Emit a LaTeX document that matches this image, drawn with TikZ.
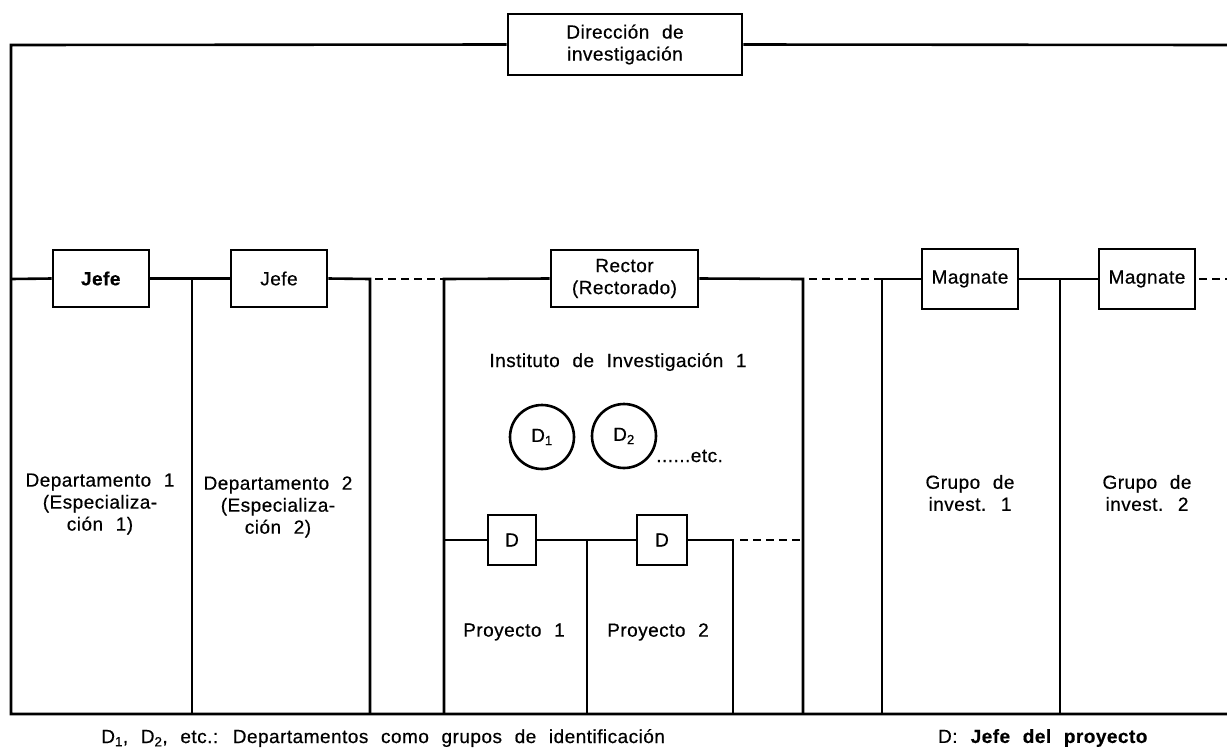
\documentclass[tikz,border=0pt]{standalone}
\usepackage{fontspec}
\setmainfont[LetterSpace=2.5,WordSpace=2.2,FakeBold=0.5]{Liberation Sans}
\begin{document}
\begin{tikzpicture}[x=1pt,y=-1pt,
  line width=2.6pt,
  txt/.style={align=center,font=\fontsize{19}{22}\selectfont},
  box/.style={txt,draw,rectangle,inner sep=0pt,fill=white},
  circ/.style={txt,draw,circle,inner sep=0pt,minimum size=64pt},
  dashconn/.style={dash pattern=on 8pt off 5pt}]
\useasboundingbox (0,0) rectangle (1227,748);

% boxes
\node[box,minimum width=234pt,minimum height=61pt] (dir) at (625,44.5) {Dirección de\\investigación};
\node[box,minimum width=96pt,minimum height=57pt] (jefe1) at (101,278.5) {\textbf{Jefe}};
\node[box,minimum width=96pt,minimum height=57pt] (jefe2) at (279,278.5) {Jefe};
\node[box,minimum width=147pt,minimum height=57pt] (rector) at (624.5,278.5) {Rector\\(Rectorado)};
\node[box,minimum width=96pt,minimum height=60pt] (mag1) at (970,279) {Magnate};
\node[box,minimum width=96pt,minimum height=60pt] (mag2) at (1147,279) {Magnate};
\node[box,minimum width=48pt,minimum height=50pt] (pd1) at (512,540) {D};
\node[box,minimum width=50pt,minimum height=50pt] (pd2) at (662,540) {D};

% corner points of the frame
\coordinate (tl) at (11,45);
\coordinate (tr) at (1227,45);
\coordinate (bl) at (11,714);
\coordinate (br) at (1227,714);
\coordinate (rowl) at (11,279);
\coordinate (div1t) at (192,279);   \coordinate (div1b) at (192,714);
\coordinate (div2t) at (370,279);   \coordinate (div2b) at (370,714);
\coordinate (dash1e) at (443,279);
\coordinate (inlt) at (444,279);    \coordinate (inlb) at (444,714);
\coordinate (inrt) at (803,279);    \coordinate (inrb) at (803,714);
\coordinate (gr1t) at (882,279);    \coordinate (gr1b) at (882,714);
\coordinate (gr2t) at (1060,279);   \coordinate (gr2b) at (1060,714);
\coordinate (rowr) at (1227,279);
% project row inside the institute
\coordinate (prl) at (444,540);
\coordinate (pdivt) at (587,540);   \coordinate (pdivb) at (587,714);
\coordinate (prrt) at (733,540);    \coordinate (prrb) at (733,714);
\coordinate (prdash) at (803,540);

% top level
\draw (dir.west) -- (tl) -- (bl) -- (br);
\draw (dir.east) -- (tr);

% heads row
\draw (rowl) -- (jefe1.west);
\draw (jefe1.east) -- (jefe2.west);
\draw (div1t) -- (div1b);
\draw (jefe2.east) -- (div2t) -- (div2b);
\draw[dashconn] (div2t) ++(5,0) -- (dash1e);
\draw (inlb) -- (inlt) -- (rector.west);
\draw (rector.east) -- (inrt) -- (inrb);
\draw[dashconn] (inrt) ++(6,0) -- (gr1t);
\draw (gr1b) -- (gr1t) -- (mag1.west);
\draw (mag1.east) -- (mag2.west);
\draw (gr2t) -- (gr2b);
\draw[dashconn] (mag2.east) ++(3,0) -- (rowr);

% projects
\draw (prl) -- (pd1.west);
\draw (pd1.east) -- (pd2.west);
\draw (pdivt) -- (pdivb);
\draw (pd2.east) -- (prrt) -- (prrb);
\draw[dashconn] (prrt) ++(7,0) -- (prdash);

% labels
\node[txt] (inst) at (618,362) {Instituto de Investigación 1};
\node[circ] (c1) at (542,437) {D\textsubscript{1}};
\node[circ] (c2) at (624,436) {D\textsubscript{2}};
\node[txt,anchor=west,inner sep=0pt] (etc) at (655,456) {......etc.};

\node[txt] (dep1) at (100,504) {Departamento 1\\(Especializa-\\ción 1)};
\node[txt] (dep2) at (278,507) {Departamento 2\\(Especializa-\\ción 2)};
\node[txt] (proy1) at (514,632) {Proyecto 1};
\node[txt] (proy2) at (658,632) {Proyecto 2};
\node[txt] (gr1) at (970,493) {Grupo de\\invest. 1};
\node[txt] (gr2) at (1147,493) {Grupo de\\invest. 2};

\node[txt,anchor=west,inner sep=0pt] (note1) at (100,738) {D\textsubscript{1}, D\textsubscript{2}, etc.: Departamentos como grupos de identificación};
\node[txt] (note2) at (1043,738) {D: \textbf{Jefe del proyecto}};
\end{tikzpicture}
\end{document}
